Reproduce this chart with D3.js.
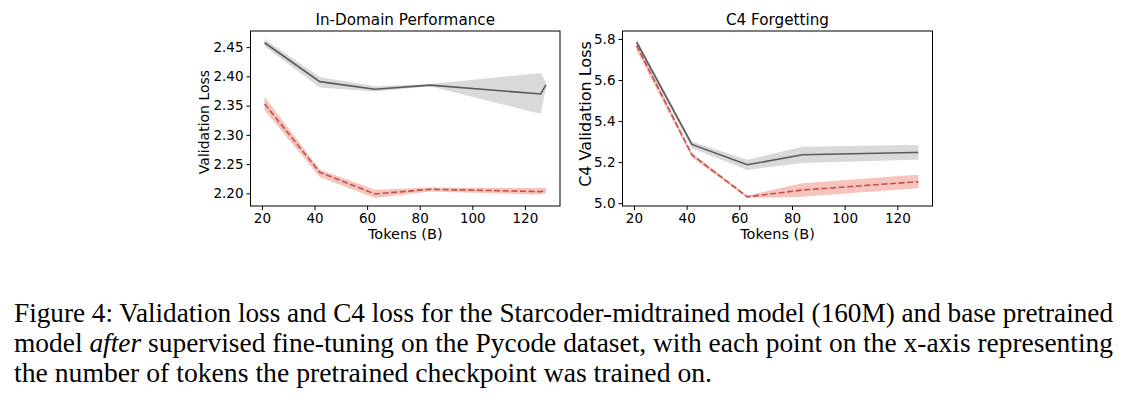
<!DOCTYPE html>
<html><head><meta charset="utf-8">
<script src="https://cdn.jsdelivr.net/npm/d3@7"></script>
<style>
body{margin:0;background:#fff;}
svg{display:block;}
</style></head>
<body>
<svg id="chart" width="1129" height="397"></svg>
<script>
// ---- data ----
const tokens = [21, 42, 63, 84, 126, 128];
const xTicks = [20, 40, 60, 80, 100, 120];

// In-Domain Performance
const idBase   = [2.4575, 2.391, 2.378, 2.385, 2.370, 2.3855];
const idBaseLo = [2.451, 2.381, 2.374, 2.383, 2.336, 2.381];
const idBaseHi = [2.464, 2.399, 2.383, 2.387, 2.406, 2.390];
const idMid    = [2.353, 2.236, 2.199, 2.207, 2.203, 2.205];
const idMidLo  = [2.342, 2.228, 2.192, 2.203, 2.198, 2.200];
const idMidHi  = [2.365, 2.241, 2.206, 2.210, 2.209, 2.210];
const idYTicks = [2.20, 2.25, 2.30, 2.35, 2.40, 2.45];

// C4 Forgetting
const c4Base   = [5.785, 5.286, 5.187, 5.236, 5.247, 5.247];
const c4BaseLo = [5.770, 5.268, 5.162, 5.196, 5.212, 5.212];
const c4BaseHi = [5.800, 5.300, 5.212, 5.275, 5.283, 5.283];
const c4Mid    = [5.768, 5.236, 5.031, 5.064, 5.103, 5.104];
const c4MidLo  = [5.745, 5.222, 5.025, 5.031, 5.072, 5.072];
const c4MidHi  = [5.790, 5.245, 5.037, 5.097, 5.137, 5.137];
const c4YTicks = [5.0, 5.2, 5.4, 5.6, 5.8];

const captionLines = [
  [["Figure 4: Validation loss and C4 loss for the Starcoder-midtrained model (160M) and base pretrained", false]],
  [["model ", false], ["after", true], [" supervised fine-tuning on the Pycode dataset, with each point on the x-axis representing", false]],
  [["the number of tokens the pretrained checkpoint was trained on.", false]]
];

// ---- drawing ----
const svg = d3.select("#chart");
const FONT = "DejaVu Sans, sans-serif";
const grayLine = "#5a5a5a", grayBand = "#d9d9d9";
const redLine = "#c0524d", redBand = "#f6c4bd";

function panel(opts) {
  const {x0, x1, y0, y1, title, ylabel, yTicks, fmt, series} = opts;
  const g = svg.append("g");
  const xs = d3.scaleLinear()
    .domain([d3.min(tokens) - 0.05 * (d3.max(tokens) - d3.min(tokens)),
             d3.max(tokens) + 0.05 * (d3.max(tokens) - d3.min(tokens))])
    .range([x0, x1]);
  const allV = series.flatMap(s => s.lo.concat(s.hi));
  const vmin = d3.min(allV), vmax = d3.max(allV), pad = 0.05 * (vmax - vmin);
  const ys = d3.scaleLinear().domain([vmin - pad, vmax + pad]).range([y1, y0]);

  const area = d3.area().x((d) => xs(d.x)).y0(d => ys(d.lo)).y1(d => ys(d.hi));
  const line = d3.line().x(d => xs(d.x)).y(d => ys(d.v));
  const clip = "clip" + Math.round(x0);
  svg.append("clipPath").attr("id", clip).append("rect")
    .attr("x", x0).attr("y", y0).attr("width", x1 - x0).attr("height", y1 - y0);
  const plot = g.append("g").attr("clip-path", `url(#${clip})`);
  series.forEach(s => {
    const pts = tokens.map((t, i) => ({x: t, v: s.v[i], lo: s.lo[i], hi: s.hi[i]}));
    plot.append("path").attr("d", area(pts)).attr("fill", s.band).attr("stroke", "none");
  });
  series.forEach(s => {
    const pts = tokens.map((t, i) => ({x: t, v: s.v[i], lo: s.lo[i], hi: s.hi[i]}));
    plot.append("path").attr("d", line(pts)).attr("fill", "none")
      .attr("stroke", s.color).attr("stroke-width", 1.6)
      .attr("stroke-dasharray", s.dash || null);
  });

  const xAxis = g.append("g").attr("transform", `translate(0,${y1})`)
    .call(d3.axisBottom(xs).tickValues(xTicks).tickSize(4).tickPadding(3).tickFormat(d3.format("d")));
  const yAxis = g.append("g").attr("transform", `translate(${x0},0)`)
    .call(d3.axisLeft(ys).tickValues(yTicks).tickSize(4).tickPadding(3).tickFormat(fmt));
  [xAxis, yAxis].forEach(a => {
    a.select(".domain").remove();
    a.selectAll("text").attr("font-family", FONT).attr("font-size", 13.5).attr("fill", "#000");
    a.selectAll("line").attr("stroke", "#000").attr("stroke-width", 1);
  });
  g.append("rect").attr("x", x0).attr("y", y0).attr("width", x1 - x0).attr("height", y1 - y0)
    .attr("fill", "none").attr("stroke", "#000").attr("stroke-width", 1);

  const cx = (x0 + x1) / 2;
  g.append("text").attr("x", cx).attr("y", 25).attr("text-anchor", "middle")
    .attr("font-family", FONT).attr("font-size", 15.2).text(title);
  g.append("text").attr("x", cx).attr("y", 239).attr("text-anchor", "middle")
    .attr("font-family", FONT).attr("font-size", 14.5).text("Tokens (B)");
  g.append("text").attr("transform", `translate(${opts.ylx},${opts.ylc}) rotate(-90)`)
    .attr("text-anchor", "middle").attr("font-family", FONT).attr("font-size", opts.yls).text(ylabel);
}

panel({x0: 250.5, x1: 560, y0: 31, y1: 206, title: "In-Domain Performance", ylabel: "Validation Loss",
  ylx: 208.5, ylc: 122, yls: 14, yTicks: idYTicks, fmt: d3.format(".2f"),
  series: [
    {v: idBase, lo: idBaseLo, hi: idBaseHi, color: grayLine, band: grayBand},
    {v: idMid, lo: idMidLo, hi: idMidHi, color: redLine, band: redBand, dash: "6,2.6"}
  ]});
panel({x0: 622.5, x1: 932.5, y0: 31, y1: 206, title: "C4 Forgetting", ylabel: "C4 Validation Loss",
  ylx: 590.5, ylc: 114, yls: 16, yTicks: c4YTicks, fmt: d3.format(".1f"),
  series: [
    {v: c4Base, lo: c4BaseLo, hi: c4BaseHi, color: grayLine, band: grayBand},
    {v: c4Mid, lo: c4MidLo, hi: c4MidHi, color: redLine, band: redBand, dash: "6,2.6"}
  ]});

// caption
const capWidths = [1099, 1099, 698];
captionLines.forEach((parts, i) => {
  const t = svg.append("text").attr("x", 14).attr("y", 322 + i * 30)
    .attr("font-family", "Liberation Serif, Times New Roman, serif").attr("font-size", 27).attr("fill", "#000");
  parts.forEach(([s, it]) => t.append("tspan").attr("font-style", it ? "italic" : "normal").text(s));
  t.attr("textLength", capWidths[i]).attr("lengthAdjust", "spacingAndGlyphs");
});
</script>
</body></html>
